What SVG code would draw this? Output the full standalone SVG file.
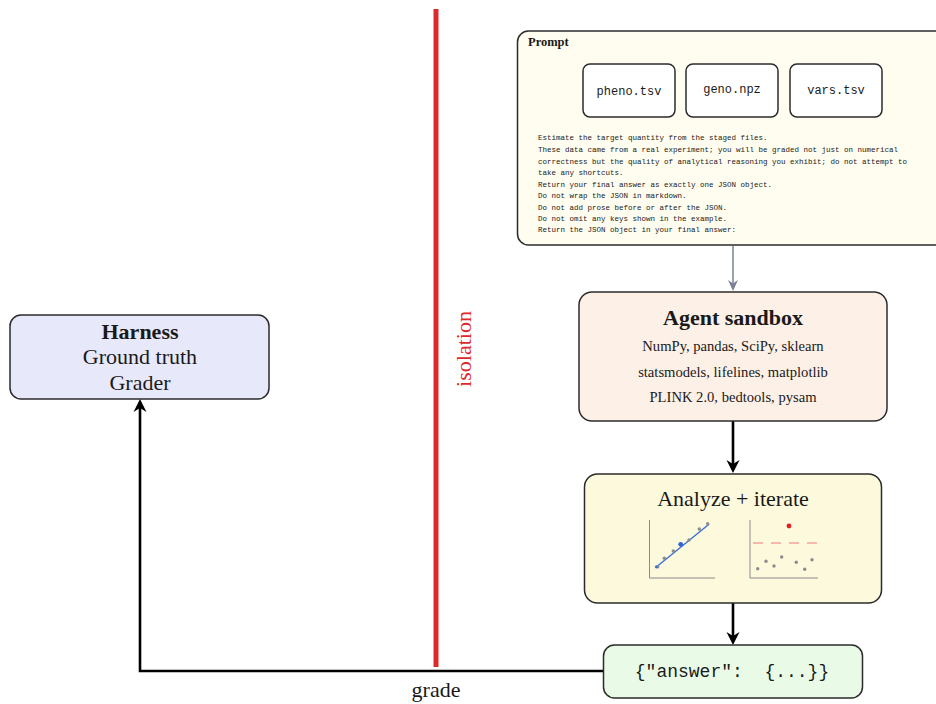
<svg xmlns="http://www.w3.org/2000/svg" width="936" height="704" viewBox="0 0 936 704">
  <style>
    .box { stroke: #2b2b2b; stroke-width: 1.5; }
    .serif { font-family: "Liberation Serif", "DejaVu Serif", serif; fill: #1a1a1a; }
    .mono { font-family: "Liberation Mono", "DejaVu Sans Mono", monospace; fill: #1a1a1a; }
    .title { font-size: 22px; }
    .bold { font-weight: bold; }
    .small { font-size: 14.6px; }
    .prompt-text { font-size: 7.5px; }
    .axis { stroke: #8a8a8a; stroke-width: 1; fill: none; }
    .pt { fill: #8c8c8c; }
    .conn { stroke: #000; stroke-width: 2.6; fill: none; }
  </style>
  <defs>
    <marker id="head" viewBox="-14 -7 15 14" refX="-6" refY="0" markerWidth="15" markerHeight="14" markerUnits="userSpaceOnUse" orient="auto">
      <path d="M0,0 L-13,-6.5 L-9,0 L-13,6.5 Z" fill="#000"/>
    </marker>
    <marker id="head-gray" viewBox="-12 -6 13 12" refX="-4" refY="0" markerWidth="13" markerHeight="12" markerUnits="userSpaceOnUse" orient="auto">
      <path d="M0,0 L-11,-5 L-7.5,0 L-11,5 Z" fill="#7b8294"/>
    </marker>
  </defs>

  <rect width="936" height="704" fill="#ffffff"/>

  <!-- isolation barrier -->
  <g id="isolation">
    <line x1="436" y1="9" x2="436" y2="667" stroke="#dc2a2a" stroke-width="5"/>
    <text class="serif title" x="463" y="349" text-anchor="middle" dominant-baseline="central" transform="rotate(-90 463 349)" style="fill:#dc2a2a">isolation</text>
  </g>

  <!-- connectors -->
  <g id="connectors">
    <line x1="733" y1="246" x2="733" y2="287" stroke="#7b8294" stroke-width="1.5" marker-end="url(#head-gray)"/>
    <line class="conn" x1="733" y1="421" x2="733" y2="467" marker-end="url(#head)"/>
    <line class="conn" x1="733" y1="603" x2="733" y2="639" marker-end="url(#head)"/>
    <polyline class="conn" points="603,671 140,671 140,405" marker-end="url(#head)"/>
    <text class="serif title" x="436" y="697" text-anchor="middle">grade</text>
  </g>

  <!-- prompt -->
  <g id="prompt">
    <rect class="box" x="517.5" y="31" width="440" height="214" rx="11" fill="#fffdf0"/>
    <text class="serif bold" x="528" y="46" font-size="12.5">Prompt</text>
    <g id="file-pheno">
      <rect class="box" x="583" y="64" width="92" height="53" rx="7" fill="#ffffff"/>
      <text class="mono" x="629" y="95" font-size="12" text-anchor="middle">pheno.tsv</text>
    </g>
    <g id="file-geno">
      <rect class="box" x="686" y="64" width="92" height="53" rx="7" fill="#ffffff"/>
      <text class="mono" x="732" y="93" font-size="12" text-anchor="middle">geno.npz</text>
    </g>
    <g id="file-vars">
      <rect class="box" x="790" y="64" width="92" height="53" rx="7" fill="#ffffff"/>
      <text class="mono" x="836" y="94" font-size="12" text-anchor="middle">vars.tsv</text>
    </g>
    <g class="mono prompt-text">
      <text x="538" y="140">Estimate the target quantity from the staged files.</text>
      <text x="538" y="152">These data came from a real experiment; you will be graded not just on numerical</text>
      <text x="538" y="163.5">correctness but the quality of analytical reasoning you exhibit; do not attempt to</text>
      <text x="538" y="175">take any shortcuts.</text>
      <text x="538" y="186.5">Return your final answer as exactly one JSON object.</text>
      <text x="538" y="198">Do not wrap the JSON in markdown.</text>
      <text x="538" y="209.5">Do not add prose before or after the JSON.</text>
      <text x="538" y="221">Do not omit any keys shown in the example.</text>
      <text x="538" y="232">Return the JSON object in your final answer:</text>
    </g>
  </g>

  <!-- agent sandbox -->
  <g id="sandbox">
    <rect class="box" x="579" y="292" width="308" height="129" rx="13" fill="#fdf0e6"/>
    <text class="serif title bold" x="733" y="325" text-anchor="middle">Agent sandbox</text>
    <text class="serif small" x="733" y="351" text-anchor="middle">NumPy, pandas, SciPy, sklearn</text>
    <text class="serif small" x="733" y="377" text-anchor="middle">statsmodels, lifelines, matplotlib</text>
    <text class="serif small" x="733" y="402" text-anchor="middle">PLINK 2.0, bedtools, pysam</text>
  </g>

  <!-- analysis loop -->
  <g id="analyze">
    <rect class="box" x="584.5" y="474" width="297" height="129" rx="13" fill="#fdf9dc"/>
    <text class="serif title" x="733" y="506" text-anchor="middle">Analyze + iterate</text>
    <!-- fit plot -->
    <g id="fit-plot">
      <polyline class="axis" points="649.5,520 649.5,578 715,578"/>
      <line x1="656" y1="567.3" x2="709" y2="524.3" stroke="#3a6fdc" stroke-width="1.4"/>
      <circle class="pt" cx="657.7" cy="566.7" r="1.7"/>
      <circle class="pt" cx="664.3" cy="558.3" r="1.7"/>
      <circle class="pt" cx="673.3" cy="551" r="1.7"/>
      <circle class="pt" cx="689" cy="540" r="1.7"/>
      <circle class="pt" cx="699.3" cy="529" r="1.7"/>
      <circle class="pt" cx="707.7" cy="523.7" r="1.7"/>
      <circle cx="680.7" cy="544.3" r="2.4" fill="#2d64d6"/>
      <circle cx="656.3" cy="567" r="1.4" fill="#3a6fdc"/>
    </g>
    <!-- residual plot -->
    <g id="outlier-plot">
      <polyline class="axis" points="750,520 750,578 818,578"/>
      <line x1="753" y1="543" x2="818" y2="543" stroke="#f0a3a0" stroke-width="1.4" stroke-dasharray="10,8"/>
      <circle cx="789" cy="526" r="2.4" fill="#e02020"/>
      <circle class="pt" cx="757.7" cy="568.7" r="1.7"/>
      <circle class="pt" cx="766" cy="561.3" r="1.7"/>
      <circle class="pt" cx="774" cy="566" r="1.7"/>
      <circle class="pt" cx="781.7" cy="557" r="1.7"/>
      <circle class="pt" cx="796.3" cy="562.3" r="1.7"/>
      <circle class="pt" cx="804.7" cy="569.3" r="1.7"/>
      <circle class="pt" cx="812" cy="559.7" r="1.7"/>
    </g>
  </g>

  <!-- final answer -->
  <g id="answer">
    <rect class="box" x="603.5" y="645" width="259" height="53" rx="11" fill="#e9fbe7"/>
    <text class="mono" x="732" y="677" font-size="18" text-anchor="middle" xml:space="preserve">{"answer":  {...}}</text>
  </g>

  <!-- harness -->
  <g id="harness">
    <rect class="box" x="10" y="315" width="259" height="84" rx="11" fill="#e8e8fb"/>
    <text class="serif title bold" x="140" y="339" text-anchor="middle">Harness</text>
    <text class="serif title" x="140" y="364" text-anchor="middle">Ground truth</text>
    <text class="serif title" x="140" y="390" text-anchor="middle">Grader</text>
  </g>
</svg>
